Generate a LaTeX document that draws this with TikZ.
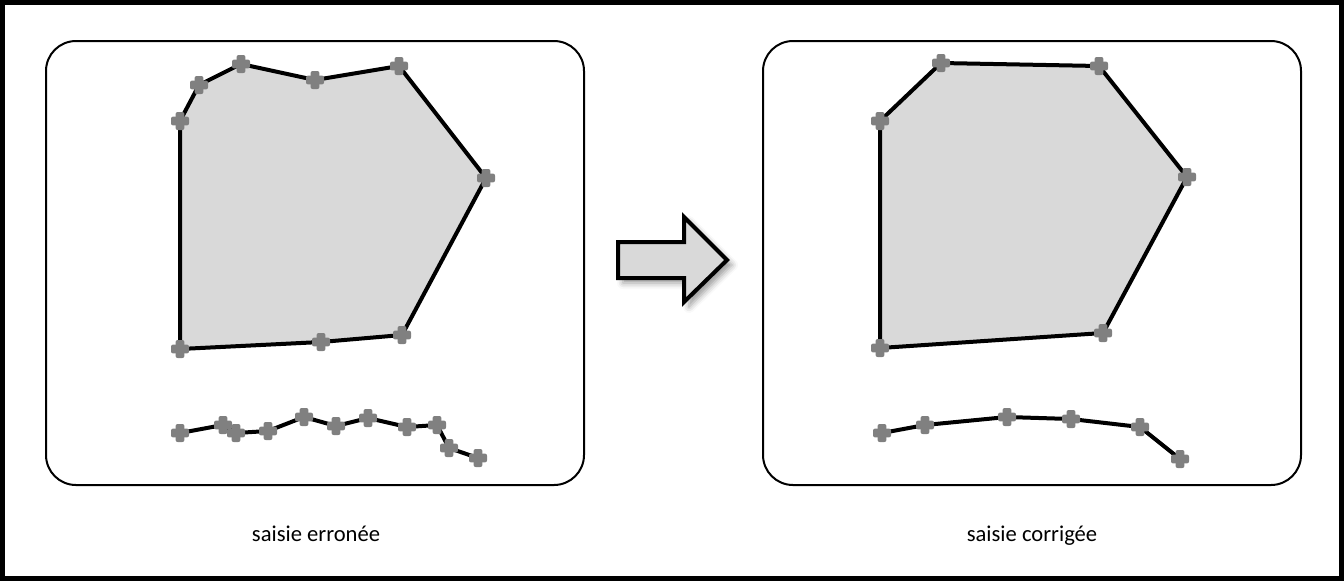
\documentclass[tikz,border=0pt]{standalone}
\usepackage{fontspec}
\setmainfont{Carlito}
\usepackage{tikz}
\usetikzlibrary{shadows.blur}

\definecolor{fillgray}{RGB}{217,217,217}
\definecolor{markgray}{RGB}{128,128,128}

\tikzset{
  panel/.style={draw=black, line width=1pt, rounded corners=15pt},
  edge/.style={draw=black, line width=2pt, line join=miter},
  vtx/.style={fill=markgray, rounded corners=1pt},
  caption/.style={font=\fontsize{11.3}{13}\selectfont, anchor=base}
}

% plus-shaped vertex marker
\newcommand{\vmark}[1]{%
  \fill[vtx] ([shift={(-4.5pt,-2.2pt)}]#1) rectangle ([shift={(4.5pt,2.2pt)}]#1);
  \fill[vtx] ([shift={(-2.2pt,-4.5pt)}]#1) rectangle ([shift={(2.2pt,4.5pt)}]#1);
}

\begin{document}
\begin{tikzpicture}[x=0.5pt, y=-0.5pt]
\useasboundingbox (0,0) rectangle (1344,580);
\draw[line width=2.5pt] (2.5,2.5) rectangle (1341.5,578.5);

% panels
\draw[panel] (46,41) rectangle (584,485);
\draw[panel] (763,41) rectangle (1301,485);

% left polygon (erroneous)
\coordinate (L1) at (180,121);
\coordinate (L2) at (199,85);
\coordinate (L3) at (241,64);
\coordinate (L4) at (315,80);
\coordinate (L5) at (399,66);
\coordinate (L6) at (486,178);
\coordinate (L7) at (402,335);
\coordinate (L8) at (321,342);
\coordinate (L9) at (180,349);
\filldraw[edge, fill=fillgray] (L1) -- (L2) -- (L3) -- (L4) -- (L5) -- (L6)
  -- (L7) -- (L8) -- (L9) -- cycle;
\foreach \p in {L1,L2,L3,L4,L5,L6,L7,L8,L9}{
  \vmark{\p}
}

% left line (erroneous)
\coordinate (l1) at (180,433);
\coordinate (l2) at (223,425);
\coordinate (l3) at (236,433);
\coordinate (l4) at (268,431);
\coordinate (l5) at (304,417);
\coordinate (l6) at (336,426);
\coordinate (l7) at (368,418);
\coordinate (l8) at (407,427);
\coordinate (l9) at (437,425);
\coordinate (l10) at (449,448);
\coordinate (l11) at (478,458);
\draw[edge] (l1) -- (l2) -- (l3) -- (l4) -- (l5) -- (l6) -- (l7) -- (l8)
  -- (l9) -- (l10) -- (l11);
\foreach \p in {l1,l2,l3,l4,l5,l6,l7,l8,l9,l10,l11}{
  \vmark{\p}
}

% right polygon (corrected)
\coordinate (R1) at (880,121);
\coordinate (R2) at (941,63);
\coordinate (R3) at (1099,66);
\coordinate (R4) at (1187,177);
\coordinate (R5) at (1103,333);
\coordinate (R6) at (880,348);
\filldraw[edge, fill=fillgray] (R1) -- (R2) -- (R3) -- (R4) -- (R5) -- (R6) -- cycle;
\foreach \p in {R1,R2,R3,R4,R5,R6}{
  \vmark{\p}
}

% right line (corrected)
\coordinate (r1) at (882,433);
\coordinate (r2) at (925,425);
\coordinate (r3) at (1007,417);
\coordinate (r4) at (1071,419);
\coordinate (r5) at (1140,427);
\coordinate (r6) at (1180,459);
\draw[edge] (r1) -- (r2) -- (r3) -- (r4) -- (r5) -- (r6);
\foreach \p in {r1,r2,r3,r4,r5,r6}{
  \vmark{\p}
}

% block arrow
\filldraw[fill=fillgray, draw=black, line width=2pt, line join=miter,
  blur shadow={shadow xshift=2.5pt, shadow yshift=-2.5pt, shadow blur radius=3pt}]
  (618,242) -- (684,242) -- (684,217) -- (727,260) -- (684,302)
  -- (684,278) -- (618,278) -- cycle;

% captions
\node[caption] (capL) at (316,541) {saisie erronée};
\node[caption] (capR) at (1032,541) {saisie corrigée};
\end{tikzpicture}
\end{document}
